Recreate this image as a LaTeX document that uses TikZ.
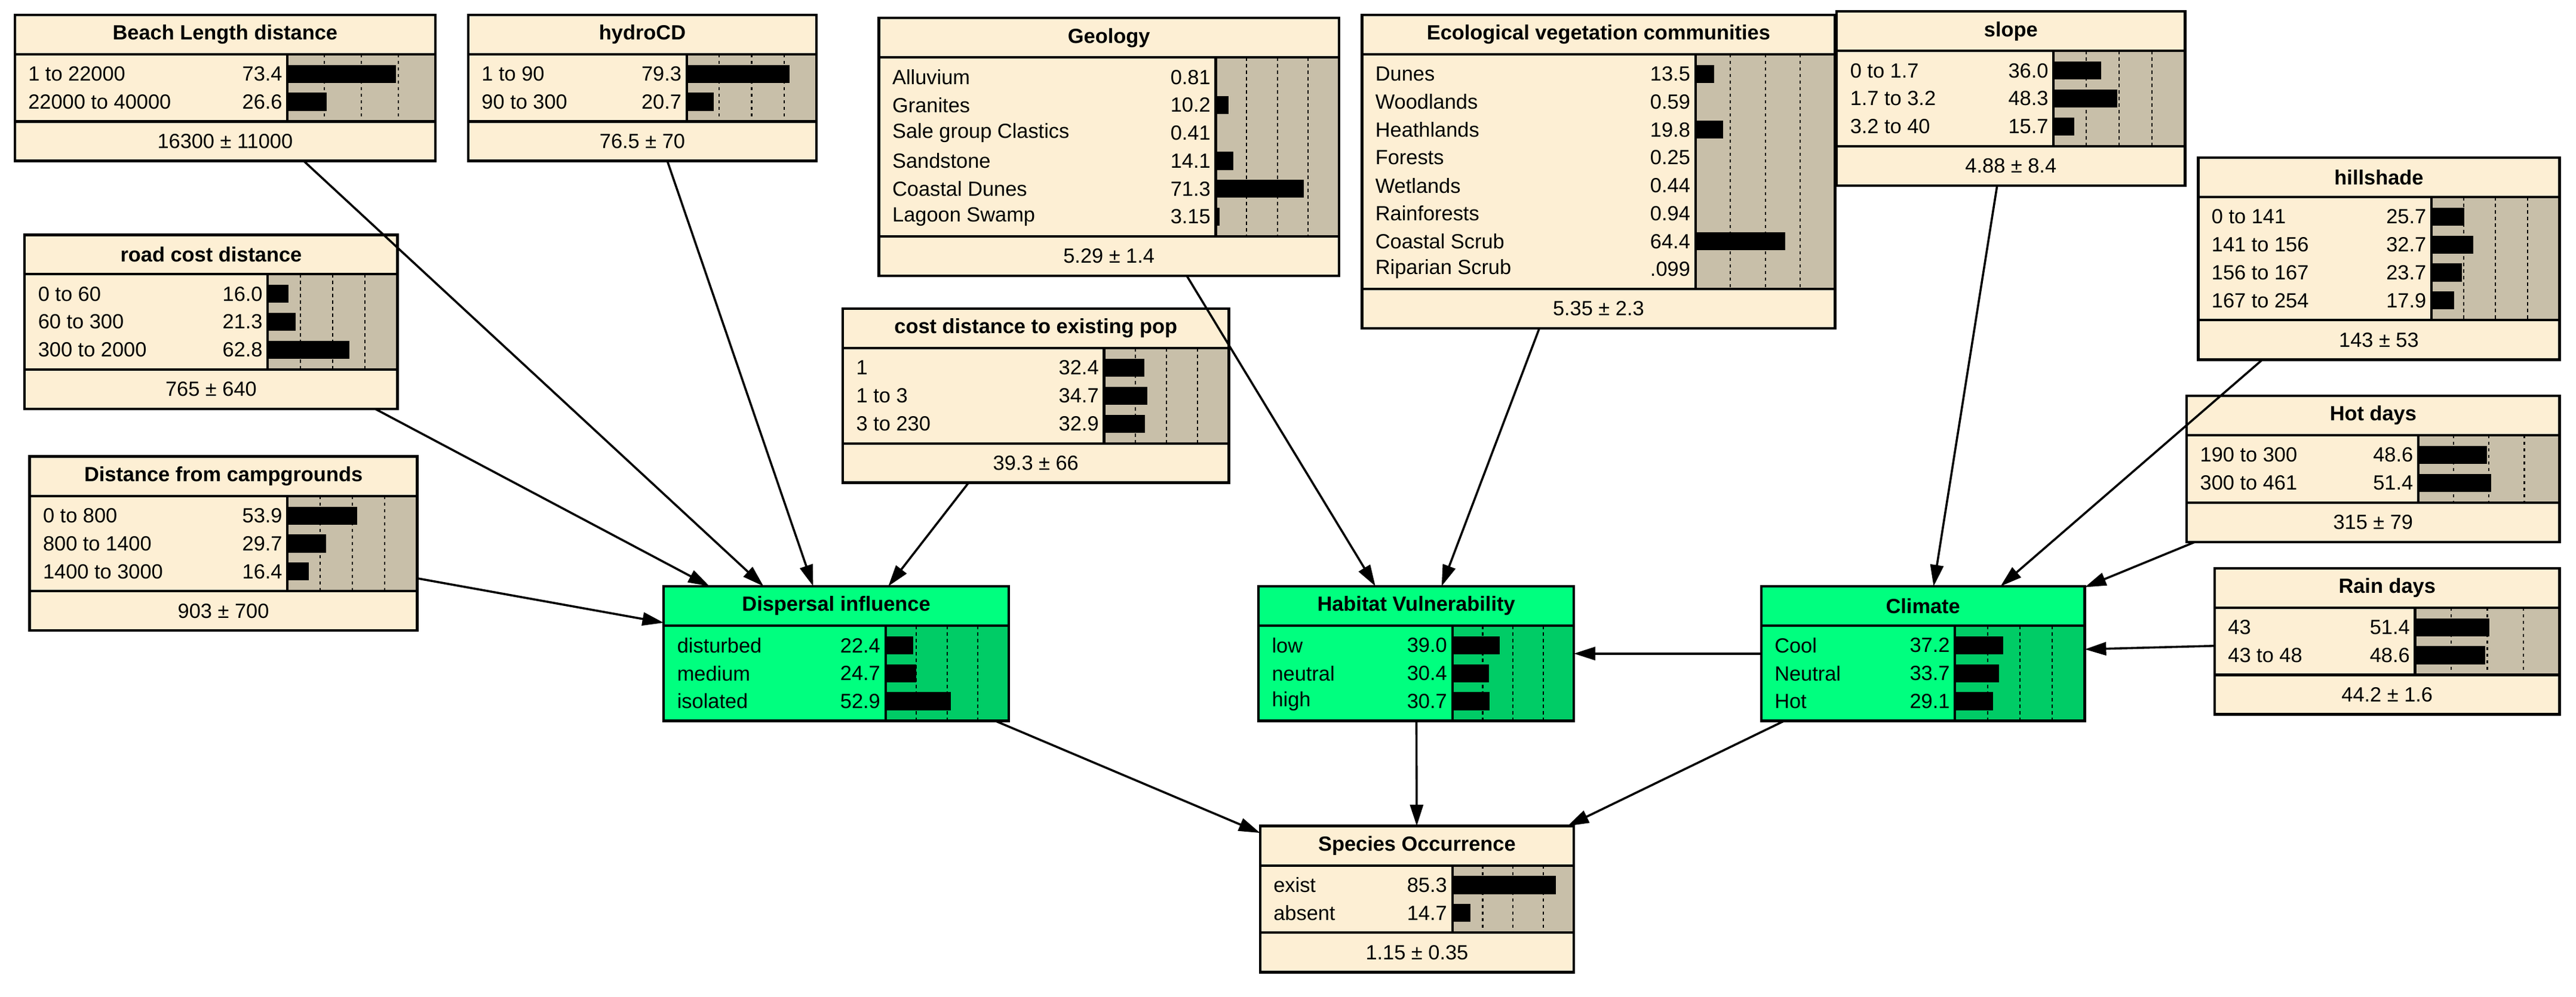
\documentclass[tikz,border=0pt]{standalone}
\usepackage{fontspec}
\setmainfont{Liberation Sans}
\usetikzlibrary{arrows.meta}
\definecolor{cream}{HTML}{FDEFD4}
\definecolor{tanc}{HTML}{C8BFA9}
\definecolor{gA}{HTML}{00FF7F}
\definecolor{gB}{HTML}{00CC66}
\tikzset{
  lab/.style={inner sep=0pt,font=\fontsize{12.5}{15}\selectfont},
  ttl/.style={inner sep=0pt,font=\fontsize{12.5}{15}\selectfont\bfseries},
  dline/.style={line width=0.8pt,dash pattern=on 2pt off 2pt},
  sep/.style={line width=1.5pt},
  frame/.style={draw,line width=1.6pt,inner sep=0pt,outer sep=0pt},
  arr/.style={line width=1.3pt,-{Triangle[length=13pt,width=8pt]}}
}
\newcommand\bn[9]{%
 \pgfmathsetmacro\yt{#3+24}%
 \pgfmathsetmacro\yr{\yt+#7*17+7}%
 \ifx\relax#9\relax \let\yb\yr\def\cA{gA}\def\cB{gB}\else \pgfmathsetmacro\yb{\yr+24}\def\cA{cream}\def\cB{tanc}\fi
 \fill[\cA] (#2,#3) rectangle (#4,\yb);
 \fill[\cB] (#5,\yt) rectangle (#4,\yr);
 \pgfmathsetmacro\bw{#4-#5}%
 \foreach \f in {0.25,0.5,0.75} \draw[dline] ({#5+\f*\bw},\yt) -- ({#5+\f*\bw},\yr);
 \foreach \l/\v/\p [count=\i] in {#8} {
   \pgfmathsetmacro\yc{\yt+3.5+(\i-0.5)*17}
   \node[anchor=west,lab] at (#2+8,\yc) {\l};
   \node[anchor=east,lab] at (#5-3,\yc) {\v};
   \fill (#5,\yc-5.5) rectangle ({#5+\p/100*\bw},\yc+5.5);
 }
 \node[ttl] at ({(#2+#4)/2},{#3+12}) {#6};
 \ifx\relax#9\relax\else \node[lab] at ({(#2+#4)/2},{\yr+12}) {#9};\fi
 \draw[sep] (#2,\yt) -- (#4,\yt);
 \draw[sep] (#2,\yr) -- (#4,\yr);
 \draw[sep] (#5,\yt) -- (#5,\yr);
 \pgfmathsetmacro\nw{#4-#2}\pgfmathsetmacro\nh{\yb-#3}%
 \node[frame,minimum width=\nw pt,minimum height=\nh pt] (#1) at ({(#2+#4)/2},{(#3+\yb)/2}) {};
}
\begin{document}
\begin{tikzpicture}[x=1pt,y=-1pt]
\useasboundingbox (0,0) rectangle (1568,607);
\bn{beach}{9}{9}{265}{175}{Beach Length distance}{2}{1 to 22000/73.4/73.4, 22000 to 40000/26.6/26.6}{16300 ± 11000}
\bn{hydro}{285}{9}{497}{418}{hydroCD}{2}{1 to 90/79.3/79.3, 90 to 300/20.7/20.7}{76.5 ± 70}
\bn{geo}{535}{11}{815}{740}{Geology}{6}{Alluvium/0.81/0.81, Granites/10.2/10.2, Sale group Clastics/0.41/0.41, Sandstone/14.1/14.1, Coastal Dunes/71.3/71.3, Lagoon Swamp/3.15/3.15}{5.29 ± 1.4}
\bn{eco}{829}{9}{1117}{1032}{Ecological vegetation communities}{8}{Dunes/13.5/13.5, Woodlands/0.59/0.59, Heathlands/19.8/19.8, Forests/0.25/0.25, Wetlands/0.44/0.44, Rainforests/0.94/0.94, Coastal Scrub/64.4/64.4, Riparian Scrub/.099/0.099}{5.35 ± 2.3}
\bn{slope}{1118}{7}{1330}{1250}{slope}{3}{0 to 1.7/36.0/36.0, 1.7 to 3.2/48.3/48.3, 3.2 to 40/15.7/15.7}{4.88 ± 8.4}
\bn{hill}{1338}{96}{1558}{1480}{hillshade}{4}{0 to 141/25.7/25.7, 141 to 156/32.7/32.7, 156 to 167/23.7/23.7, 167 to 254/17.9/17.9}{143 ± 53}
\bn{road}{15}{143}{242}{163}{road cost distance}{3}{0 to 60/16.0/16.0, 60 to 300/21.3/21.3, 300 to 2000/62.8/62.8}{765 ± 640}
\bn{pop}{513}{188}{748}{672}{cost distance to existing pop}{3}{1/32.4/32.4, 1 to 3/34.7/34.7, 3 to 230/32.9/32.9}{39.3 ± 66}
\bn{camp}{18}{278}{254}{175}{Distance from campgrounds}{3}{0 to 800/53.9/53.9, 800 to 1400/29.7/29.7, 1400 to 3000/16.4/16.4}{903 ± 700}
\bn{hot}{1331}{241}{1558}{1472}{Hot days}{2}{190 to 300/48.6/48.6, 300 to 461/51.4/51.4}{315 ± 79}
\bn{rain}{1348}{346}{1558}{1470}{Rain days}{2}{43/51.4/51.4, 43 to 48/48.6/48.6}{44.2 ± 1.6}
\bn{disp}{404}{357}{614}{539}{Dispersal influence}{3}{disturbed/22.4/22.4, medium/24.7/24.7, isolated/52.9/52.9}{}
\bn{hab}{766}{357}{958}{884}{Habitat Vulnerability}{3}{low/39.0/39.0, neutral/30.4/30.4, high/30.7/30.7}{}
\bn{clim}{1072}{357}{1269}{1190}{Climate}{3}{Cool/37.2/37.2, Neutral/33.7/33.7, Hot/29.1/29.1}{}
\bn{spec}{767}{503}{958}{884}{Species Occurrence}{2}{exist/85.3/85.3, absent/14.7/14.7}{1.15 ± 0.35}
\foreach \a/\b in {road/disp, beach/disp, hydro/disp, pop/disp, camp/disp, geo/hab, eco/hab, clim/hab, slope/clim, hill/clim, hot/clim, rain/clim, disp/spec, hab/spec, clim/spec}
  \draw[arr] (\a) -- (\b);
\end{tikzpicture}
\end{document}
